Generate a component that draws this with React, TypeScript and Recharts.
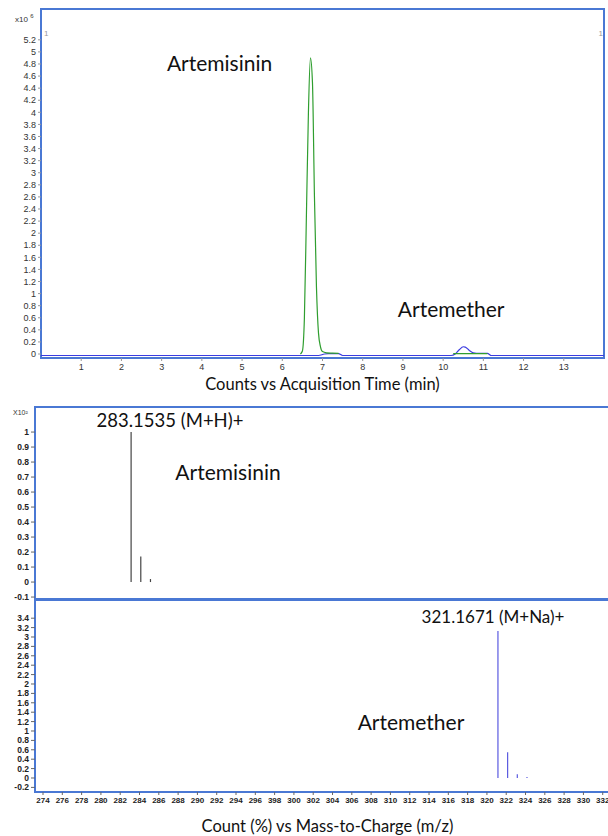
import React from 'react';
import {
  LineChart,
  Line,
  BarChart,
  Bar,
  XAxis,
  YAxis,
  ReferenceArea,
  ReferenceDot,
  Label,
} from 'recharts';

// chromatogram (x10^6 counts vs time in min)
const artemisininTime = [6.45, 6.5, 6.55, 6.6, 6.65, 6.7, 6.75, 6.8, 6.85, 6.9, 6.95, 7.0, 7.1, 7.25, 7.4, 7.45, 10.25, 10.5, 10.8, 11.1];
const artemisininCounts = [0, 0.05, 0.6, 2.3, 4.0, 4.9, 4.5, 2.6, 1.1, 0.35, 0.12, 0.04, 0.02, 0.015, 0.01, null, 0.005, 0.005, 0.005, 0.005];
const artemetherTime = [0, 6.9, 7.05, 7.15, 7.4, 7.5, 10.2, 10.3, 10.4, 10.5, 10.55, 10.65, 10.75, 10.9, 11.1, 11.2, 14];
const artemetherCounts = [-0.025, -0.025, 0, 0.005, 0.005, -0.025, -0.025, 0, 0.07, 0.12, 0.115, 0.06, 0.02, 0.01, 0.01, -0.025, -0.025];
const timeTicks = [1, 2, 3, 4, 5, 6, 7, 8, 9, 10, 11, 12, 13];
const countTicks = [0, 0.2, 0.4, 0.6, 0.8, 1, 1.2, 1.4, 1.6, 1.8, 2, 2.2, 2.4, 2.6, 2.8, 3, 3.2, 3.4, 3.6, 3.8, 4, 4.2, 4.4, 4.6, 4.8, 5, 5.2];

// mass spectra (x10^2 %)
const artemisininMz = [283.1535, 284.157, 285.16];
const artemisininPct = [1.0, 0.17, 0.02];
const artemetherMz = [321.1671, 322.17, 323.173, 324.176];
const artemetherPct = [3.13, 0.55, 0.08, 0.02];
const mzTicks = [274, 276, 278, 280, 282, 284, 286, 288, 290, 292, 294, 296, 298, 300, 302, 304, 306, 308, 310, 312, 314, 316, 318, 320, 322, 324, 326, 328, 330, 332];
const mzLabels = ['274', '276', '278', '280', '282', '284', '286', '288', '290', '292', '294', '296', '398', '300', '302', '304', '306', '308', '310', '312', '314', '316', '318', '320', '322', '324', '326', '328', '330', '332'];
const topPctTicks = [-0.1, 0, 0.1, 0.2, 0.3, 0.4, 0.5, 0.6, 0.7, 0.8, 0.9, 1];
const bottomPctTicks = [-0.2, 0, 0.2, 0.4, 0.6, 0.8, 1, 1.2, 1.4, 1.6, 1.8, 2, 2.2, 2.4, 2.6, 2.8, 3, 3.2, 3.4];

const greenData = artemisininTime.map((t, i) => ({ t, v: artemisininCounts[i] }));
const blueData = artemetherTime.map((t, i) => ({ t, v: artemetherCounts[i] }));
const topSpec = artemisininMz.map((mz, i) => ({ mz, v: artemisininPct[i] }));
const bottomSpec = artemetherMz.map((mz, i) => ({ mz, v: artemetherPct[i] }));

const FRAME = '#4a78d4';
const NOTE_FONT = 'Lato, "Open Sans", sans-serif';
const TICK_FONT = '"Liberation Sans", Arial, sans-serif';
const MZ_DOMAIN = [273.17, 333.79];

const fmt = (v: number) => String(+v.toFixed(1));

const note = (value: string, size: number) => ({
  value,
  position: 'center' as const,
  fontSize: size,
  fill: '#111',
  fontFamily: NOTE_FONT,
});

export default function App() {
  return (
    <div style={{ position: 'absolute', left: 0, top: 0, width: 608, height: 836, overflow: 'hidden', background: '#fff' }}>
      <div style={{ position: 'absolute', left: 0, top: 0 }}>
        <LineChart width={608} height={400} margin={{ top: 9, right: 4, bottom: 0, left: 0 }}>
          <XAxis
            type="number"
            dataKey="t"
            domain={[0, 14]}
            ticks={timeTicks}
            interval={0}
            height={42}
            axisLine={false}
            tickLine={{ stroke: '#999' }}
            tickSize={3}
            tickMargin={3}
            tick={{ fill: '#333', fontSize: 9, fontFamily: TICK_FONT }}
          >
            <Label value="Counts vs Acquisition Time (min)" position="insideBottom" offset={10} fontSize={16.5} fill="#111" fontFamily={NOTE_FONT} />
          </XAxis>
          <YAxis
            type="number"
            domain={[-0.066, 5.71]}
            allowDataOverflow
            ticks={countTicks}
            interval={0}
            width={41}
            axisLine={false}
            tickLine={{ stroke: '#999' }}
            tickSize={3}
            tickMargin={2}
            tickFormatter={fmt}
            tick={{ fill: '#333', fontSize: 9, fontFamily: TICK_FONT }}
          />
          <ReferenceArea x1={0} x2={14} y1={-0.066} y2={5.71} fill="none" stroke={FRAME} strokeWidth={2} ifOverflow="visible" />
          <Line data={blueData} dataKey="v" type="monotone" stroke="#3c3ce0" strokeWidth={1.2} dot={false} isAnimationActive={false} />
          <Line data={greenData} dataKey="v" type="monotone" stroke="#2f9e2f" strokeWidth={1.2} dot={false} isAnimationActive={false} />
          <ReferenceDot x={4.44} y={4.8} r={0} fill="none" stroke="none" label={note('Artemisinin', 21)} />
          <ReferenceDot x={10.2} y={0.73} r={0} fill="none" stroke="none" label={note('Artemether', 21)} />
          <ReferenceDot x={0.13} y={5.31} r={0} fill="none" stroke="none" label={{ value: '1', position: 'center', fontSize: 8, fill: '#999', fontFamily: TICK_FONT }} />
          <ReferenceDot x={13.92} y={5.31} r={0} fill="none" stroke="none" label={{ value: '1', position: 'center', fontSize: 8, fill: '#999', fontFamily: TICK_FONT }} />
        </LineChart>
      </div>
      <div style={{ position: 'absolute', left: 15, top: 13, fontSize: 8, fontFamily: TICK_FONT, color: '#333' }}>
        x10 <sup style={{ fontSize: 6 }}>6</sup>
      </div>

      <div style={{ position: 'absolute', left: 0, top: 400 }}>
        <BarChart width={640} height={212} data={topSpec} margin={{ top: 7, right: 20, bottom: 13, left: 0 }}>
          <XAxis type="number" dataKey="mz" domain={MZ_DOMAIN} hide />
          <YAxis
            type="number"
            domain={[-0.113, 1.167]}
            allowDataOverflow
            ticks={topPctTicks}
            interval={0}
            width={35}
            axisLine={false}
            tickLine={{ stroke: '#666' }}
            tickSize={4}
            tickMargin={2}
            tickFormatter={fmt}
            tick={{ fill: '#222', fontSize: 8.5, fontWeight: 'bold', fontFamily: TICK_FONT }}
          />
          <ReferenceArea x1={MZ_DOMAIN[0]} x2={MZ_DOMAIN[1]} y1={-0.113} y2={1.167} fill="none" stroke={FRAME} strokeWidth={2} ifOverflow="visible" />
          <Bar dataKey="v" fill="#444" barSize={1.2} isAnimationActive={false} />
          <ReferenceDot x={287.16} y={1.08} r={0} fill="none" stroke="none" label={note('283.1535 (M+H)+', 18.5)} />
          <ReferenceDot x={293.17} y={0.733} r={0} fill="none" stroke="none" label={note('Artemisinin', 21)} />
        </BarChart>
      </div>
      <div style={{ position: 'absolute', left: 13, top: 409, fontSize: 7, fontFamily: TICK_FONT, color: '#333' }}>
        X10²
      </div>

      <div style={{ position: 'absolute', left: 0, top: 599 }}>
        <BarChart width={640} height={237} data={bottomSpec} margin={{ top: 1, right: 20, bottom: 0, left: 0 }}>
          <XAxis
            type="number"
            dataKey="mz"
            domain={MZ_DOMAIN}
            ticks={mzTicks}
            interval={0}
            height={44}
            axisLine={false}
            tickLine={{ stroke: '#666' }}
            tickSize={3}
            tickMargin={2}
            tickFormatter={(v: number) => mzLabels[mzTicks.indexOf(v)]}
            tick={{ fill: '#222', fontSize: 8, fontWeight: 'bold', fontFamily: TICK_FONT }}
          >
            <Label value="Count (%) vs Mass-to-Charge (m/z)" position="insideBottom" offset={4} fontSize={16.5} fill="#111" fontFamily={NOTE_FONT} />
          </XAxis>
          <YAxis
            type="number"
            domain={[-0.298, 3.787]}
            allowDataOverflow
            ticks={bottomPctTicks}
            interval={0}
            width={35}
            axisLine={false}
            tickLine={{ stroke: '#666' }}
            tickSize={4}
            tickMargin={2}
            tickFormatter={fmt}
            tick={{ fill: '#222', fontSize: 8.5, fontWeight: 'bold', fontFamily: TICK_FONT }}
          />
          <ReferenceArea x1={MZ_DOMAIN[0]} x2={MZ_DOMAIN[1]} y1={-0.298} y2={3.787} fill="none" stroke={FRAME} strokeWidth={2} ifOverflow="visible" />
          <Bar dataKey="v" fill="#5a5ae0" barSize={1.2} isAnimationActive={false} />
          <ReferenceDot x={320.63} y={3.43} r={0} fill="none" stroke="none" label={note('321.1671 (M+Na)+', 17)} />
          <ReferenceDot x={312.13} y={1.19} r={0} fill="none" stroke="none" label={note('Artemether', 21)} />
        </BarChart>
      </div>
    </div>
  );
}
